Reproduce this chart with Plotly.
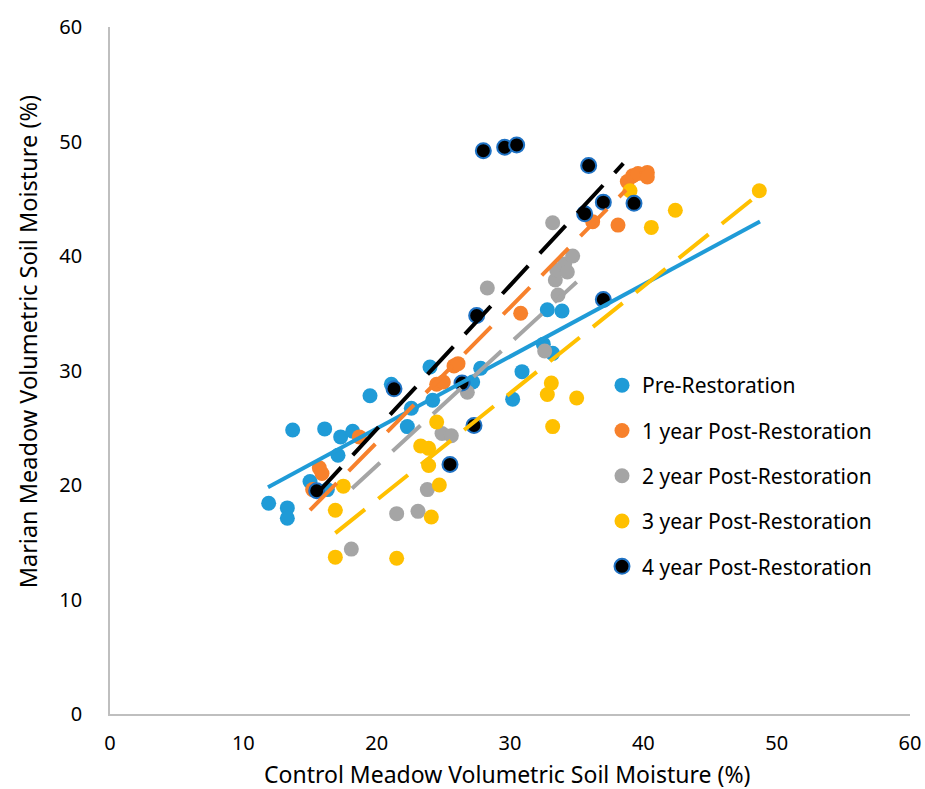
import plotly.graph_objects as go

# ---- data ----
pre_x = [11.9, 13.3, 13.3, 13.7, 15.0, 16.1, 16.3, 17.1, 17.3, 18.2, 19.5, 21.1, 22.3, 22.6,
         24.0, 24.2, 27.2, 27.8, 30.2, 30.9, 32.5, 33.2, 32.8, 33.9]
pre_y = [18.4, 18.0, 17.1, 24.8, 20.3, 24.9, 19.6, 22.6, 24.2, 24.7, 27.8, 28.8, 25.1, 26.7,
         30.3, 27.4, 29.0, 30.2, 27.5, 29.9, 32.3, 31.5, 35.3, 35.2]

y1_x = [15.2, 15.7, 15.9, 18.7, 24.5, 25.0, 25.8, 26.1, 30.8, 36.2, 38.1, 38.8, 39.2, 39.6, 40.3, 40.3]
y1_y = [19.6, 21.5, 21.0, 24.2, 28.8, 29.0, 30.4, 30.6, 35.0, 43.0, 42.7, 46.5, 47.0, 47.2, 47.3, 46.9]

y2_x = [18.1, 21.5, 23.1, 23.8, 24.9, 25.6, 26.8, 28.3, 32.6, 33.2, 33.4, 33.6, 33.5, 34.1, 34.3, 34.7]
y2_y = [14.4, 17.5, 17.7, 19.6, 24.5, 24.3, 28.1, 37.2, 31.7, 42.9, 37.9, 36.6, 38.8, 39.3, 38.6, 40.0]

y3_x = [16.9, 16.9, 17.5, 21.5, 23.3, 23.9, 23.9, 24.1, 24.5, 24.7, 32.8, 33.1, 33.2, 35.0,
        39.0, 40.6, 42.4, 48.7]
y3_y = [13.7, 17.8, 19.9, 13.6, 23.4, 23.2, 21.7, 17.2, 25.5, 20.0, 27.9, 28.9, 25.1, 27.6,
        45.7, 42.5, 44.0, 45.7]

y4_x = [15.5, 21.3, 25.5, 26.4, 27.3, 27.5, 28.0, 29.6, 30.5, 35.6, 35.9, 37.0, 37.0, 39.3]
y4_y = [19.5, 28.4, 21.8, 28.9, 25.2, 34.8, 49.2, 49.5, 49.7, 43.7, 47.9, 44.7, 36.2, 44.6]

# linear trendlines: slope, intercept, x span
trend_slope = [0.629, 1.18, 1.07, 0.932, 1.255]
trend_intercept = [12.35, 0.1, 0.28, 0.05, -0.23]
trend_x_start = [11.85, 15.0, 18.15, 16.9, 15.4]
trend_x_end = [48.75, 38.7, 35.0, 48.7, 38.5]

names = ["Pre-Restoration", "1 year Post-Restoration", "2 year Post-Restoration",
         "3 year Post-Restoration", "4 year Post-Restoration"]
xs = [pre_x, y1_x, y2_x, y3_x, y4_x]
ys = [pre_y, y1_y, y2_y, y3_y, y4_y]

colors = ["#1F9BD7", "#F7812C", "#A5A5A5", "#FFC000", "#000000"]
line_colors = ["#1F9BD7", "#F7812C", "#A5A5A5", "#FFC000", "#000000"]
dashes = ["solid", "38px,17px", "38px,17px", "38px,17px", "38px,17px"]

FONT = "Noto Sans"
fig = go.Figure()

for i in range(5):
    mline = dict(width=2, color="#1F72C4") if i == 4 else dict(width=0)
    fig.add_trace(go.Scatter(
        x=xs[i], y=ys[i], mode="markers", name=names[i], legendgroup=names[i],
        marker=dict(size=15, color=colors[i], line=mline),
    ))

for i in range(5):
    tx = [trend_x_start[i], trend_x_end[i]]
    ty = [trend_slope[i] * v + trend_intercept[i] for v in tx]
    fig.add_trace(go.Scatter(
        x=tx, y=ty, mode="lines", showlegend=False, hoverinfo="skip",
        line=dict(color=line_colors[i], width=4, dash=dashes[i]),
    ))

fig.update_layout(
    width=925, height=789,
    margin=dict(l=110, r=15, t=27, b=75, autoexpand=False),
    paper_bgcolor="white", plot_bgcolor="white",
    font=dict(family=FONT, size=20, color="#000000"),
    showlegend=True,
    legend=dict(x=0.615, y=0.508, xanchor="left", yanchor="top",
                font=dict(family=FONT, size=21, color="#000000"),
                tracegroupgap=15, itemwidth=30, bgcolor="rgba(0,0,0,0)"),
    xaxis=dict(range=[0, 60], tickvals=[0, 10, 20, 30, 40, 50, 60], showgrid=False,
               zeroline=False, showline=True, linecolor="#BFBFBF", linewidth=1.5,
               ticks="", ticklabelstandoff=10, automargin=False,
               tickfont=dict(size=20, color="#000000")),
    yaxis=dict(range=[0, 60], tickvals=[0, 10, 20, 30, 40, 50, 60], showgrid=False,
               zeroline=False, showline=True, linecolor="#BFBFBF", linewidth=1.5,
               ticks="", ticklabelstandoff=22, automargin=False,
               tickfont=dict(size=20, color="#000000")),
    annotations=[
        dict(text="Control Meadow Volumetric Soil Moisture (%)", xref="paper", yref="paper",
             x=0.496, y=-0.0874, xanchor="center", yanchor="middle", showarrow=False,
             font=dict(family=FONT, size=23, color="#000000")),
        dict(text="Marian Meadow Volumetric Soil Moisture (%)", xref="paper", yref="paper",
             x=-0.1025, y=0.541, xanchor="center", yanchor="middle", showarrow=False, textangle=-90,
             font=dict(family=FONT, size=23.5, color="#000000")),
    ],
)

fig.write_html("out.html")
